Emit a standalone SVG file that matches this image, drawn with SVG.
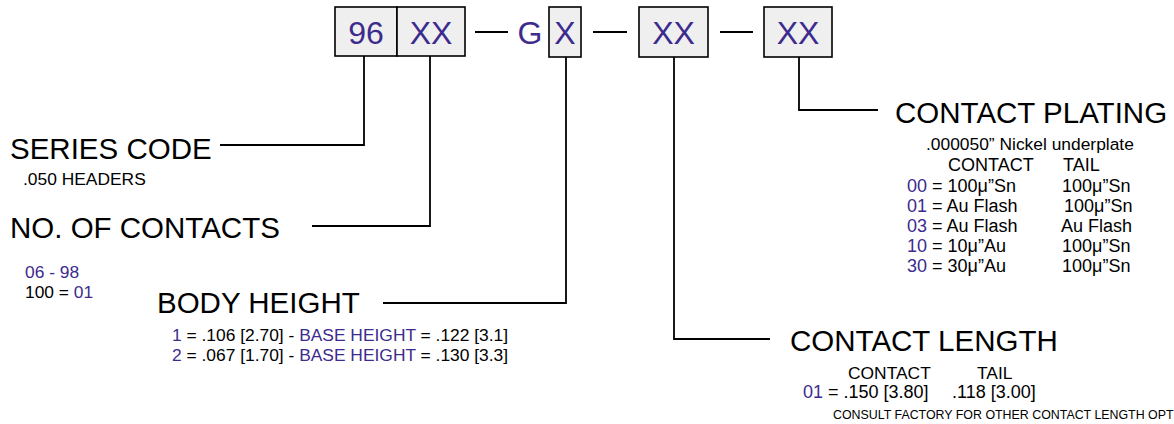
<svg xmlns="http://www.w3.org/2000/svg" width="1174" height="424" viewBox="0 0 1174 424">
<style>
text{font-family:"Liberation Sans",Arial,sans-serif;fill:#000}
.p{fill:#3d2b8e}
.box{fill:#efefef;stroke:#000;stroke-width:1.6}
.bt{font-size:32px;fill:#3d2b8e;text-anchor:middle}
.big{font-size:29.5px}
.sm{font-size:17.4px}
.md{font-size:18px}
.xs{font-size:12.4px}
.ln{fill:none;stroke:#000;stroke-width:1.8}
</style>
<rect width="1174" height="424" fill="#fff"/>
<g id="part-number">
<g id="box-96"><rect class="box" x="335" y="7" width="62" height="49"/><text class="bt" x="366" y="44">96</text></g>
<g id="box-xx1"><rect class="box" x="397" y="7" width="68" height="49"/><text class="bt" x="431" y="44">XX</text></g>
<g id="g-label"><text class="bt" x="530" y="44">G</text></g>
<g id="box-x"><rect class="box" x="549" y="7" width="32" height="50"/><text class="bt" x="565" y="44">X</text></g>
<g id="box-xx2"><rect class="box" x="639" y="7" width="69" height="50"/><text class="bt" x="673.5" y="44">XX</text></g>
<g id="box-xx3"><rect class="box" x="764" y="7" width="68" height="50"/><text class="bt" x="798" y="44">XX</text></g>
<g id="dashes"><path class="ln" d="M475 32H508M593 32H627M720 32H753"/></g>
</g>
<g id="connectors">
<path class="ln" d="M364 56V145H220"/>
<path class="ln" d="M430 56V226H312"/>
<path class="ln" d="M566 57V303H383"/>
<path class="ln" d="M674 57V339H770"/>
<path class="ln" d="M799 57V110H878"/>
</g>
<g id="series-code">
<text class="big" x="10" y="159">SERIES CODE</text>
<text class="sm" x="23" y="185">.050 HEADERS</text>
</g>
<g id="no-of-contacts">
<text class="big" x="10" y="238">NO. OF CONTACTS</text>
<text class="sm p" x="25" y="278">06 - 98</text>
<text class="sm" x="25" y="298">100 = <tspan class="p">01</tspan></text>
</g>
<g id="body-height">
<text class="big" x="157" y="313">BODY HEIGHT</text>
<text class="sm" x="172" y="341"><tspan class="p">1</tspan> = .106 [2.70] - <tspan class="p">BASE HEIGHT</tspan> = .122 [3.1]</text>
<text class="sm" x="172" y="361"><tspan class="p">2</tspan> = .067 [1.70] - <tspan class="p">BASE HEIGHT</tspan> = .130 [3.3]</text>
</g>
<g id="contact-length">
<text class="big" x="790" y="351">CONTACT LENGTH</text>
<text class="sm" x="848" y="379">CONTACT</text>
<text class="sm" x="977" y="379">TAIL</text>
<text class="md" x="803" y="398"><tspan class="p">01</tspan> = .150 [3.80]</text>
<text class="md" x="952" y="398">.118 [3.00]</text>
<text class="xs" x="833" y="419">CONSULT FACTORY FOR OTHER CONTACT LENGTH OPT</text>
</g>
<g id="contact-plating">
<text class="big" x="895" y="123">CONTACT PLATING</text>
<text class="sm" x="926" y="150">.000050” Nickel underplate</text>
<text class="md" x="948" y="171">CONTACT</text>
<text class="md" x="1063" y="171">TAIL</text>
<text class="md" x="907" y="191.5"><tspan class="p">00</tspan> = 100μ”Sn</text>
<text class="md" x="1062" y="191.5">100μ”Sn</text>
<text class="md" x="907" y="211.5"><tspan class="p">01</tspan> = Au Flash</text>
<text class="md" x="1064" y="211.5">100μ”Sn</text>
<text class="md" x="907" y="231.5"><tspan class="p">03</tspan> = Au Flash</text>
<text class="md" x="1061" y="231.5">Au Flash</text>
<text class="md" x="907" y="251.5"><tspan class="p">10</tspan> = 10μ”Au</text>
<text class="md" x="1062" y="251.5">100μ”Sn</text>
<text class="md" x="907" y="271.5"><tspan class="p">30</tspan> = 30μ”Au</text>
<text class="md" x="1062" y="271.5">100μ”Sn</text>
</g>
</svg>
